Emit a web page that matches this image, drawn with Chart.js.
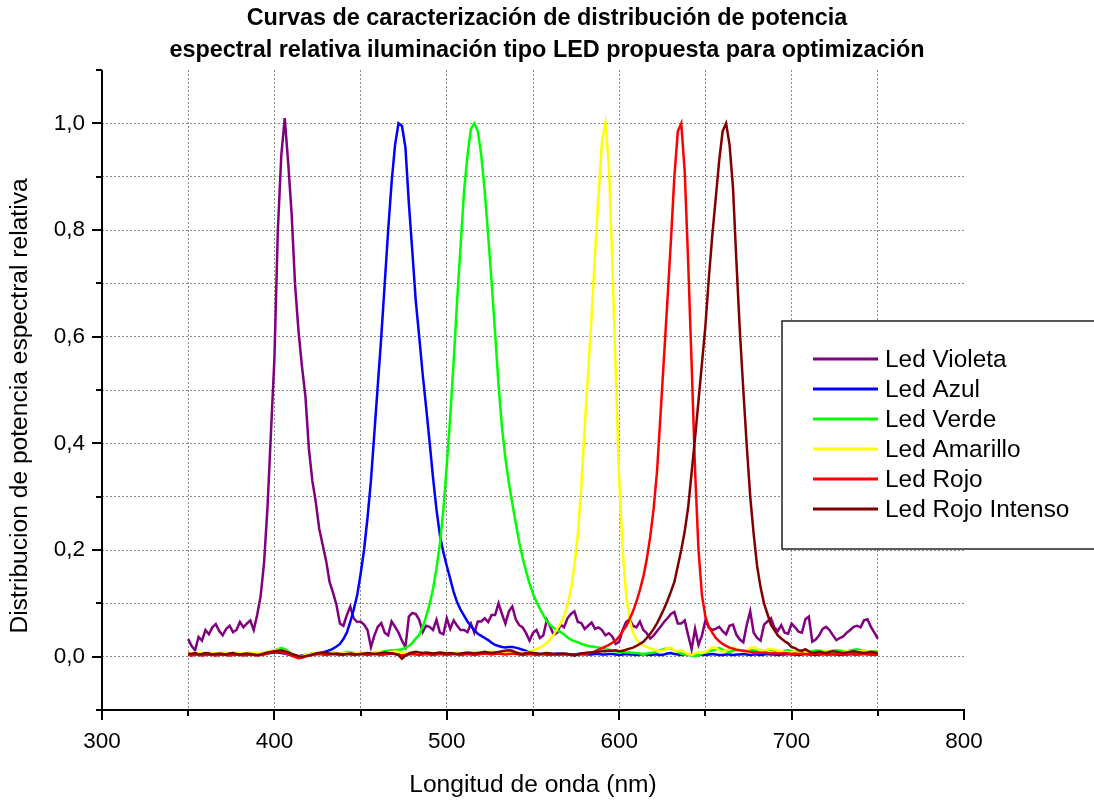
<!DOCTYPE html>
<html>
<head>
<meta charset="utf-8">
<script src="https://cdn.jsdelivr.net/npm/chart.js@4/dist/chart.umd.min.js"></script>
<style>
  html, body { margin: 0; padding: 0; background: #ffffff; }
  #wrap { width: 1094px; height: 801px; position: relative; }
</style>
</head>
<body>
<div id="wrap"><canvas id="spd" width="1094" height="801"></canvas></div>
<script>
// Wavelength samples (nm) shared by every LED spectrum
const wavelengths = [
  350,352,354,356,358,360,362,364,366,368,
  370,372,374,376,378,380,382,384,386,388,
  390,392,394,396,398,400,402,404,406,408,
  410,412,414,416,418,420,422,424,426,428,
  430,432,434,436,438,440,442,444,446,448,
  450,452,454,456,458,460,462,464,466,468,
  470,472,474,476,478,480,482,484,486,488,
  490,492,494,496,498,500,502,504,506,508,
  510,512,514,516,518,520,522,524,526,528,
  530,532,534,536,538,540,542,544,546,548,
  550,552,554,556,558,560,562,564,566,568,
  570,572,574,576,578,580,582,584,586,588,
  590,592,594,596,598,600,602,604,606,608,
  610,612,614,616,618,620,622,624,626,628,
  630,632,634,636,638,640,642,644,646,648,
  650,652,654,656,658,660,662,664,666,668,
  670,672,674,676,678,680,682,684,686,688,
  690,692,694,696,698,700,702,704,706,708,
  710,712,714,716,718,720,722,724,726,728,
  730,732,734,736,738,740,742,744,746,748,
  750
];

// Relative spectral power of each LED, one value per wavelength above
const ledVioleta = [
  0.033,0.020,0.012,0.037,0.030,0.050,0.042,0.055,0.061,0.048,
  0.040,0.052,0.058,0.046,0.050,0.065,0.055,0.062,0.068,0.050,
  0.078,0.113,0.176,0.280,0.420,0.558,0.800,0.940,1.010,0.926,
  0.830,0.697,0.610,0.544,0.488,0.390,0.330,0.290,0.240,0.210,
  0.180,0.140,0.120,0.097,0.062,0.058,0.078,0.094,0.072,0.065,
  0.066,0.060,0.050,0.018,0.040,0.056,0.063,0.045,0.040,0.066,
  0.056,0.045,0.030,0.018,0.075,0.082,0.080,0.069,0.046,0.058,
  0.056,0.050,0.069,0.045,0.042,0.072,0.052,0.068,0.058,0.050,
  0.050,0.046,0.062,0.045,0.066,0.066,0.072,0.065,0.078,0.078,
  0.100,0.080,0.062,0.085,0.094,0.070,0.059,0.055,0.044,0.030,
  0.045,0.050,0.035,0.040,0.069,0.056,0.041,0.045,0.060,0.055,
  0.072,0.080,0.085,0.065,0.063,0.052,0.058,0.064,0.052,0.055,
  0.050,0.040,0.044,0.038,0.024,0.028,0.050,0.065,0.070,0.058,
  0.055,0.066,0.050,0.044,0.034,0.040,0.048,0.056,0.065,0.072,
  0.080,0.084,0.062,0.062,0.068,0.040,0.014,0.052,0.022,0.040,
  0.068,0.055,0.050,0.052,0.056,0.048,0.042,0.058,0.060,0.041,
  0.032,0.027,0.060,0.085,0.045,0.035,0.030,0.060,0.066,0.072,
  0.055,0.048,0.059,0.045,0.043,0.062,0.055,0.047,0.045,0.070,
  0.075,0.028,0.032,0.040,0.052,0.056,0.050,0.040,0.031,0.035,
  0.038,0.045,0.050,0.056,0.058,0.055,0.068,0.070,0.056,0.045,
  0.034
];

const ledAzul = [
  0.004,0.003,0.005,0.004,0.003,0.004,0.005,0.004,0.003,0.004,
  0.005,0.004,0.003,0.004,0.005,0.004,0.004,0.003,0.004,0.005,
  0.004,0.004,0.005,0.006,0.007,0.008,0.008,0.007,0.006,0.004,
  0.003,0.002,0.001,0.002,0.003,0.004,0.005,0.006,0.007,0.008,
  0.010,0.012,0.015,0.019,0.024,0.033,0.045,0.065,0.088,0.115,
  0.155,0.200,0.260,0.330,0.420,0.510,0.600,0.700,0.800,0.890,
  0.960,1.000,0.995,0.955,0.850,0.760,0.667,0.600,0.530,0.468,
  0.403,0.336,0.276,0.228,0.196,0.170,0.146,0.121,0.102,0.088,
  0.077,0.066,0.057,0.050,0.043,0.039,0.035,0.031,0.026,0.022,
  0.020,0.018,0.017,0.018,0.018,0.017,0.015,0.013,0.011,0.008,
  0.007,0.006,0.005,0.005,0.004,0.005,0.005,0.006,0.006,0.005,
  0.005,0.004,0.004,0.005,0.006,0.005,0.004,0.004,0.005,0.005,
  0.004,0.004,0.005,0.005,0.004,0.003,0.004,0.005,0.004,0.004,
  0.003,0.004,0.005,0.004,0.003,0.004,0.004,0.003,0.004,0.006,
  0.007,0.005,0.004,0.003,0.004,0.004,0.003,0.003,0.004,0.004,
  0.003,0.004,0.005,0.004,0.003,0.003,0.004,0.004,0.003,0.004,
  0.004,0.005,0.004,0.003,0.004,0.004,0.003,0.004,0.005,0.004,
  0.004,0.003,0.004,0.004,0.005,0.004,0.004,0.003,0.004,0.005,
  0.004,0.004,0.003,0.004,0.005,0.004,0.004,0.005,0.004,0.003,
  0.004,0.004,0.005,0.004,0.004,0.005,0.006,0.005,0.004,0.004,
  0.004
];

const ledVerde = [
  0.005,0.006,0.004,0.005,0.007,0.006,0.005,0.004,0.006,0.007,
  0.006,0.005,0.006,0.007,0.005,0.004,0.005,0.006,0.005,0.004,
  0.005,0.006,0.007,0.009,0.010,0.012,0.014,0.016,0.014,0.010,
  0.006,0.002,-0.002,0.000,0.003,0.005,0.006,0.007,0.006,0.005,
  0.006,0.007,0.008,0.007,0.006,0.007,0.009,0.008,0.007,0.006,
  0.007,0.006,0.005,0.006,0.007,0.008,0.009,0.010,0.011,0.012,
  0.012,0.013,0.014,0.017,0.020,0.026,0.034,0.041,0.056,0.075,
  0.098,0.127,0.165,0.212,0.275,0.360,0.450,0.555,0.668,0.770,
  0.873,0.940,0.990,1.000,0.985,0.940,0.873,0.790,0.702,0.607,
  0.510,0.430,0.372,0.326,0.287,0.250,0.215,0.185,0.160,0.137,
  0.118,0.103,0.090,0.078,0.066,0.059,0.054,0.050,0.046,0.042,
  0.036,0.032,0.029,0.027,0.024,0.022,0.020,0.019,0.018,0.017,
  0.016,0.014,0.013,0.011,0.010,0.009,0.009,0.008,0.008,0.007,
  0.007,0.006,0.005,0.006,0.007,0.008,0.010,0.012,0.014,0.016,
  0.016,0.012,0.009,0.006,0.004,0.003,0.002,0.001,0.003,0.006,
  0.008,0.010,0.012,0.014,0.016,0.013,0.010,0.009,0.011,0.013,
  0.012,0.010,0.011,0.013,0.012,0.010,0.009,0.010,0.012,0.013,
  0.011,0.010,0.009,0.011,0.012,0.010,0.009,0.010,0.011,0.010,
  0.009,0.010,0.012,0.011,0.010,0.009,0.010,0.011,0.012,0.011,
  0.010,0.009,0.011,0.013,0.014,0.012,0.011,0.010,0.009,0.010,
  0.009
];

const ledAmarillo = [
  0.007,0.006,0.008,0.007,0.006,0.007,0.008,0.007,0.006,0.007,
  0.008,0.007,0.006,0.007,0.008,0.007,0.006,0.007,0.008,0.007,
  0.006,0.007,0.008,0.009,0.011,0.012,0.013,0.012,0.010,0.008,
  0.005,0.002,0.000,0.001,0.003,0.005,0.006,0.007,0.008,0.007,
  0.006,0.007,0.008,0.007,0.006,0.007,0.008,0.007,0.006,0.007,
  0.008,0.007,0.006,0.007,0.008,0.009,0.008,0.007,0.008,0.009,
  0.010,0.009,0.008,0.007,0.008,0.009,0.008,0.007,0.006,0.007,
  0.008,0.007,0.006,0.007,0.008,0.007,0.006,0.007,0.008,0.007,
  0.006,0.007,0.008,0.009,0.008,0.007,0.008,0.009,0.010,0.009,
  0.008,0.007,0.008,0.009,0.010,0.009,0.008,0.008,0.008,0.010,
  0.012,0.014,0.017,0.021,0.026,0.033,0.041,0.052,0.062,0.076,
  0.097,0.126,0.170,0.230,0.320,0.430,0.535,0.640,0.755,0.865,
  0.965,1.000,0.920,0.740,0.530,0.330,0.200,0.116,0.070,0.045,
  0.032,0.025,0.021,0.018,0.016,0.013,0.011,0.010,0.012,0.016,
  0.017,0.012,0.010,0.012,0.008,0.005,0.003,0.006,0.008,0.007,
  0.009,0.013,0.018,0.016,0.012,0.010,0.012,0.015,0.017,0.014,
  0.012,0.010,0.012,0.016,0.018,0.015,0.012,0.011,0.013,0.015,
  0.013,0.011,0.010,0.009,0.008,0.009,0.010,0.008,0.007,0.008,
  0.009,0.008,0.007,0.008,0.009,0.010,0.009,0.008,0.007,0.008,
  0.009,0.010,0.009,0.008,0.009,0.010,0.011,0.010,0.009,0.008,
  0.008
];

const ledRojo = [
  0.003,0.002,0.004,0.003,0.002,0.003,0.004,0.003,0.002,0.003,
  0.004,0.003,0.002,0.003,0.004,0.003,0.002,0.003,0.004,0.003,
  0.002,0.003,0.004,0.006,0.008,0.009,0.010,0.009,0.007,0.005,
  0.002,-0.001,-0.003,-0.002,0.000,0.002,0.003,0.004,0.005,0.004,
  0.003,0.004,0.005,0.004,0.003,0.004,0.005,0.004,0.003,0.004,
  0.005,0.004,0.003,0.004,0.005,0.004,0.003,0.004,0.005,0.006,
  0.005,0.004,0.002,0.003,0.004,0.005,0.004,0.003,0.004,0.005,
  0.004,0.003,0.004,0.005,0.004,0.003,0.004,0.005,0.004,0.003,
  0.004,0.005,0.004,0.003,0.004,0.005,0.006,0.005,0.004,0.005,
  0.006,0.005,0.004,0.005,0.006,0.005,0.004,0.003,0.004,0.005,
  0.004,0.003,0.004,0.005,0.004,0.003,0.004,0.005,0.004,0.004,
  0.004,0.003,0.004,0.004,0.004,0.004,0.006,0.008,0.010,0.013,
  0.016,0.019,0.022,0.026,0.030,0.038,0.048,0.057,0.070,0.085,
  0.103,0.125,0.150,0.183,0.225,0.278,0.350,0.455,0.562,0.670,
  0.780,0.900,0.985,1.000,0.910,0.740,0.550,0.350,0.200,0.115,
  0.075,0.055,0.045,0.035,0.029,0.024,0.020,0.017,0.015,0.013,
  0.012,0.011,0.010,0.009,0.008,0.008,0.007,0.008,0.007,0.006,
  0.007,0.006,0.006,0.007,0.006,0.005,0.006,0.005,0.006,0.005,
  0.005,0.006,0.005,0.004,0.005,0.006,0.005,0.004,0.005,0.004,
  0.005,0.004,0.005,0.006,0.005,0.004,0.005,0.004,0.005,0.004,
  0.005
];

const ledRojoIntenso = [
  0.006,0.005,0.007,0.004,0.005,0.007,0.006,0.004,0.005,0.006,
  0.005,0.004,0.006,0.007,0.005,0.004,0.005,0.006,0.005,0.004,
  0.003,0.004,0.006,0.008,0.009,0.010,0.011,0.012,0.010,0.008,
  0.005,0.003,0.001,0.000,0.001,0.002,0.004,0.006,0.007,0.008,
  0.007,0.006,0.005,0.006,0.005,0.004,0.005,0.006,0.005,0.004,
  0.005,0.006,0.007,0.006,0.005,0.006,0.007,0.008,0.007,0.006,
  0.005,0.003,-0.004,0.002,0.006,0.008,0.009,0.008,0.007,0.008,
  0.007,0.006,0.007,0.008,0.007,0.006,0.007,0.006,0.005,0.006,
  0.007,0.008,0.007,0.006,0.007,0.008,0.009,0.008,0.007,0.008,
  0.009,0.010,0.011,0.012,0.011,0.008,0.006,0.005,0.007,0.008,
  0.007,0.006,0.005,0.006,0.007,0.006,0.005,0.004,0.005,0.006,
  0.005,0.004,0.002,0.004,0.006,0.007,0.008,0.008,0.009,0.009,
  0.010,0.010,0.011,0.011,0.012,0.010,0.011,0.013,0.015,0.017,
  0.020,0.024,0.028,0.035,0.043,0.052,0.063,0.076,0.090,0.105,
  0.122,0.140,0.170,0.200,0.235,0.280,0.345,0.410,0.480,0.550,
  0.620,0.710,0.790,0.860,0.930,0.985,1.000,0.960,0.880,0.740,
  0.610,0.500,0.395,0.300,0.230,0.170,0.130,0.100,0.080,0.060,
  0.050,0.040,0.034,0.029,0.025,0.018,0.016,0.012,0.011,0.014,
  0.010,0.007,0.008,0.009,0.008,0.007,0.009,0.010,0.009,0.008,
  0.007,0.008,0.009,0.010,0.009,0.008,0.007,0.008,0.009,0.008,
  0.007
];

const seriesLabels = ['Led Violeta', 'Led Azul', 'Led Verde', 'Led Amarillo', 'Led Rojo', 'Led Rojo Intenso'];
const seriesValues = [ledVioleta, ledAzul, ledVerde, ledAmarillo, ledRojo, ledRojoIntenso];
const seriesColors = ['#800080', '#0000ff', '#00ff00', '#ffff00', '#ff0000', '#800000'];

const xTicksMajor = [300, 400, 500, 600, 700, 800];
const yTickLabels = ['0,0', '0,2', '0,4', '0,6', '0,8', '1,0'];

const chartTitle = ['Curvas de caracterización de distribución de potencia',
                    'espectral relativa iluminación tipo LED propuesta para optimización'];
const xTitle = 'Longitud de onda (nm)';
const yTitle = 'Distribucion de potencia espectral relativa';

const FONT = '"Liberation Sans", Arial, Helvetica, sans-serif';
Chart.defaults.font.family = FONT;
Chart.defaults.color = '#000';

// Axis lines, tick marks, titles and the boxed legend
const frame = {
  id: 'frame',
  afterDraw(chart) {
    const { ctx, chartArea: a, scales: { x, y } } = chart;
    ctx.save();
    ctx.strokeStyle = '#000';
    ctx.lineWidth = 2;
    ctx.lineCap = 'butt';
    ctx.beginPath();
    ctx.moveTo(a.left, a.top);
    ctx.lineTo(a.left, a.bottom + 1);
    ctx.moveTo(a.left - 1, a.bottom);
    ctx.lineTo(a.right + 1, a.bottom);
    x.ticks.forEach(t => {
      const px = Math.round(x.getPixelForValue(t.value));
      const major = xTicksMajor.includes(Math.round(t.value));
      ctx.moveTo(px, a.bottom);
      ctx.lineTo(px, a.bottom + (major ? 10 : 6));
    });
    y.ticks.forEach(t => {
      const py = Math.round(y.getPixelForValue(t.value));
      const major = Math.abs(Math.round(t.value * 10)) % 2 === 0;
      ctx.moveTo(a.left, py);
      ctx.lineTo(a.left - (major ? 10 : 6), py);
    });
    ctx.stroke();

    // titles
    ctx.fillStyle = '#000';
    ctx.textAlign = 'center';
    ctx.textBaseline = 'middle';
    ctx.font = 'bold 23.4px ' + FONT;
    ctx.fillText(chartTitle[0], 547, 19);
    ctx.fillText(chartTitle[1], 547, 51);
    ctx.font = '24.6px ' + FONT;
    ctx.fillText(xTitle, (a.left + a.right) / 2, 785);
    ctx.save();
    ctx.translate(20, 406);
    ctx.rotate(-Math.PI / 2);
    ctx.fillText(yTitle, 0, 0);
    ctx.restore();

    // legend box
    const bx = 782, by = 321, bw = 330, bh = 228;
    ctx.fillStyle = '#fff';
    ctx.fillRect(bx, by, bw, bh);
    ctx.strokeStyle = '#222';
    ctx.lineWidth = 1.5;
    ctx.strokeRect(bx, by, bw, bh);
    ctx.font = '24.4px ' + FONT;
    ctx.textAlign = 'left';
    chart.data.datasets.forEach((ds, i) => {
      const ly = 359 + i * 30;
      ctx.strokeStyle = ds.borderColor;
      ctx.lineWidth = 3;
      ctx.beginPath();
      ctx.moveTo(813, ly);
      ctx.lineTo(878, ly);
      ctx.stroke();
      ctx.fillStyle = '#000';
      ctx.fillText(ds.label, 885, ly + 1);
    });
    ctx.restore();
  }
};

const datasets = seriesLabels.map((label, s) => ({
  label,
  data: wavelengths.map((w, i) => ({ x: w, y: seriesValues[s][i] })),
  borderColor: seriesColors[s],
  backgroundColor: seriesColors[s],
  borderWidth: 2.5,
  pointRadius: 0,
  tension: 0,
  fill: false,
  order: seriesLabels.length - 1 - s
}));

const gridColor = '#8c8c8c';

new Chart(document.getElementById('spd'), {
  type: 'line',
  data: { datasets },
  options: {
    responsive: false,
    animation: false,
    devicePixelRatio: 1,
    layout: { padding: { top: 70, right: 130, left: 0, bottom: 0 } },
    plugins: {
      legend: { display: false },
      title: { display: false },
      tooltip: { enabled: false }
    },
    scales: {
      x: {
        type: 'linear',
        min: 300,
        max: 800,
        afterFit(scale) { scale.height = 91; },
        ticks: {
          stepSize: 50,
          autoSkip: false,
          maxRotation: 0,
          padding: 18,
          font: { size: 22.5 },
          color: '#000',
          callback: v => xTicksMajor.includes(Math.round(v)) ? String(Math.round(v)) : ''
        },
        grid: {
          drawTicks: false,
          lineWidth: 1,
          color: c => (c.tick && (c.tick.value <= 300 || c.tick.value >= 800)) ? 'rgba(0,0,0,0)' : gridColor
        },
        border: { display: false, dash: [2, 2] }
      },
      y: {
        type: 'linear',
        min: -0.1,
        max: 1.1,
        afterFit(scale) { scale.width = 102; },
        ticks: {
          stepSize: 0.1,
          autoSkip: false,
          padding: 17,
          font: { size: 22.5 },
          color: '#000',
          callback: v => {
            const k = Math.round(v * 10);
            return (k >= 0 && k <= 10 && k % 2 === 0) ? yTickLabels[k / 2] : '';
          }
        },
        grid: {
          drawTicks: false,
          lineWidth: 1,
          color: c => {
            if (!c.tick) return gridColor;
            const k = Math.round(c.tick.value * 10);
            return (k < 0 || k > 10) ? 'rgba(0,0,0,0)' : gridColor;
          }
        },
        border: { display: false, dash: [2, 2] }
      }
    }
  },
  plugins: [frame]
});
</script>
</body>
</html>
